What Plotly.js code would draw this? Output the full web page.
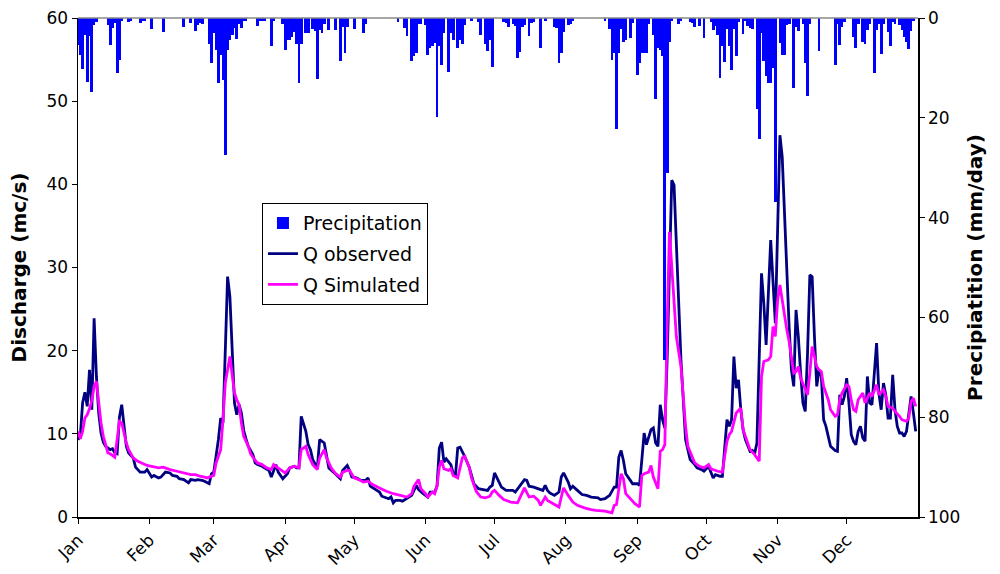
<!DOCTYPE html>
<html>
<head>
<meta charset="utf-8">
<script src="https://cdn.plot.ly/plotly-3.0.1.min.js"></script>
<style>html,body{margin:0;padding:0;background:#fff;}#chart{width:1000px;height:574px;}</style>
</head>
<body>
<div id="chart"></div>
<script>
// Month tick positions (day of year) and labels
const monthStarts = [0, 31, 59, 90, 120, 151, 181, 212, 243, 273, 304, 334];
const monthLabels = ["Jan","Feb","Mar","Apr","May","Jun","Jul","Aug","Sep","Oct","Nov","Dec"];

// Daily precipitation (mm/day), days with rain only
const precipDay = [0,1,2,3,4,5,6,7,8,13,14,15,16,17,18,19,22,23,27,28,29,32,37,46,49,51,52,53,54,57,58,
 59,60,61,62,63,64,65,66,67,68,69,70,71,72,73,78,79,80,81,84,85,89,
 90,91,92,93,94,95,96,97,99,100,102,103,104,105,106,107,109,112,114,115,116,117,
 120,124,125,139,142,143,145,146,147,148,149,151,152,153,154,155,156,157,158,159,161,162,163,165,166,167,168,171,174,175,177,178,179,180,
 185,186,187,189,190,191,192,193,194,196,197,198,201,203,207,208,209,210,211,213,214,215,229,231,232,233,234,235,236,237,238,240,241,
 243,244,245,246,247,248,250,251,252,253,254,255,256,257,258,261,262,266,267,268,270,272,
 275,276,277,278,279,280,281,282,283,284,285,286,287,289,290,291,292,293,295,296,297,298,299,300,301,302,303,
 305,306,307,308,309,311,312,313,315,316,317,318,322,329,330,331,332,333,337,338,339,341,342,343,344,346,347,348,349,350,352,353,354,355,357,358,359,360,361,362,363];
const precipMM = [5.5,7.4,10.2,3.5,12.8,3.7,14.8,1.5,0.8,1.4,5.4,2,1,11,8.4,0.7,0.8,0.6,1,0.6,0.5,2.3,2.9,1.8,1,2.7,1.5,1,1.2,5.2,9,
 3,6.4,13,7.4,12.4,27.5,6.4,4.4,3.4,2,4.2,1.3,2,0.6,0.5,1.6,0.7,0.6,0.5,5.6,0.5,1.2,
 6.4,4.4,4.4,3.8,2.8,5.2,13,5.2,3.1,3.1,2.2,2.6,12.3,2.5,3,1.3,2.4,2.4,8.7,1.8,7,1.8,
 2.3,3.1,1.3,0.8,2,3.6,8.7,7.7,7,1.3,1.2,1.5,7.5,6,5.7,5,19.8,5.7,9.4,3,10.8,3,4.4,6,4.4,5.2,1.5,0.6,0.8,3.4,5.2,6.7,4.4,9.8,
 0.8,1,1.8,1.2,1.6,8,6.9,1.8,1.4,3.6,1,0.8,6.1,0.5,1.8,2,9,7,2.8,1.4,1.2,0.5,0.5,2.2,8.4,7,22.3,7,2.2,4.8,4.4,4,1,
 11.4,9,7,7,7,1.2,3.4,16.3,6,6.5,7.7,68.5,31,4.9,0.5,1.2,0.6,0.8,1,1.8,1.6,4,
 0.8,2.4,1.6,3.4,12,5.7,8.8,2.2,5.6,10.4,2.2,7.6,0.8,3.2,0.6,1.7,2,2.3,18.3,24.3,3,8.7,11.7,13,13,10,36.8,
 5,7.5,7.5,1.4,1.2,14.1,1.8,2.7,1.2,9,15.6,1.2,6.7,9.4,1.2,5.4,1.8,0.8,3.8,6.1,1.2,4.8,5.2,2.4,1.2,11,2.4,1.2,7.2,1.2,2.8,5.7,0.8,1.2,1.5,2.4,3.8,4.8,6.2,2.7,0.6];

// Observed discharge (m3/s)
const obsDay = [0,1,2,3,4,5,6,7,8,9,10,11,12,14,15,16,17,18,19,20,21,22,24,25,27,29,30,32,33,35,36,38,40,41,43,44,46,48,49,51,52,54,55,57,58,59,
 60,61,62,63,64,65,66,67,68,69,70,71,72,73,74,76,77,78,80,81,83,84,86,87,89,91,92,94,95,96,97,99,100,101,102,104,105,107,108,109,111,113,114,115,117,118,119,
 121,123,125,126,127,129,131,132,135,136,137,138,140,141,143,145,147,148,150,152,153,155,156,157,158,159,160,162,163,164,165,166,168,170,172,174,176,178,179,
 180,181,183,184,186,187,189,190,192,194,195,196,198,200,202,203,204,205,207,209,210,211,213,214,215,217,219,221,223,226,227,229,231,233,234,235,236,237,238,240,241,
 243,244,245,246,247,249,250,251,252,253,254,255,256,258,259,260,261,262,263,264,265,266,268,269,271,272,274,275,276,277,279,280,
 281,282,283,284,285,286,287,288,289,290,292,293,294,295,297,298,299,300,301,303,305,306,307,308,309,310,311,312,313,314,315,316,317,318,319,320,321,322,323,324,325,326,327,329,330,
 331,332,333,334,335,336,337,338,339,340,341,342,343,344,345,347,348,349,350,351,352,353,354,355,356,357,358,359,360,361,362,363,364];
const obsQ = [9.3,9.7,13.7,15,13.3,17.7,12.9,23.9,16.9,12.5,10.1,9,8.5,8.1,8.2,7.7,7.6,12,13.5,10.9,8.5,7.7,7.1,6,5.4,5.4,5.7,4.8,5,4.7,4.8,5.4,5.3,5,4.9,4.6,4.5,4.1,4.5,4.4,4.5,4.4,4.3,4,5.2,5.4,
 7.2,9.3,11.9,11.3,20,28.9,26.5,18.9,13.7,12.3,13.5,12.5,10.4,9.4,8.5,7.5,6.5,6.3,6.1,5.9,5.6,4.8,6.3,5.4,4.6,5.2,5.9,6.1,5.9,5.9,12.1,10.3,8.7,8.1,6.9,5.9,9.3,8.9,7.2,5.9,5.4,4.8,4.6,5.6,6.2,5.6,4.8,
 4.7,4.4,4.4,4.7,3.7,3.4,3,2.5,2.2,2.4,1.7,2,2,1.9,2.2,2.6,3.8,3.3,2.8,2.4,3,3,3.7,8.3,9,6.6,7,6.3,5.3,4.9,8.3,8.4,7.3,6,4,3.4,3.3,3.2,3.6,
 3.8,5.3,4.1,3.6,3.2,3.2,3.2,3,3.8,4.5,4.4,3.7,3.6,3.4,3.2,3.8,3.2,2.9,2.6,3,4.8,5.3,4.2,3.4,3.7,3.2,2.7,2.6,2.4,2.3,2.1,2.2,2.6,3.6,3.6,7.2,8,6.8,5.2,4.4,4,
 4,3.8,6.9,10.1,8.7,10.5,10.7,8.9,8.5,13.5,11.7,10.7,19,40.5,39.9,32.9,24.9,18.9,14.1,9.3,8.1,6.9,6.3,5.9,5.7,5.5,6.1,5.5,4.7,5.1,4.9,4.9,
 8.5,11.7,10.9,11.7,19.3,15.5,16.5,12.9,10.5,9.3,7.9,8,7.6,8.9,29.3,25.7,20.7,26.9,33.3,23.3,45.9,43.3,35.7,29.7,22.9,17.7,15.7,24.9,21.7,17.3,13.7,12.7,19.7,29.1,28.9,21.7,15.7,17.7,16.9,11.7,10.9,9.7,8.5,8,7.9,
 14.7,13.5,14.5,16.7,13.7,9.9,9.1,8.7,10.3,10.9,9.5,9.1,16.9,13.7,13.5,20.9,14.9,12.9,16.1,14.7,11.9,11.9,17.1,12.9,10.9,10.1,10.1,9.7,10.3,12.5,14.5,12.5,10.3];

// Simulated discharge (m3/s)
const simDay = [0,1,2,3,4,5,6,7,8,9,10,11,12,13,14,15,16,17,18,19,20,21,22,23,24,26,28,30,32,35,37,40,43,46,49,51,53,55,56,57,59,
 60,62,63,64,66,67,68,69,70,71,72,74,75,77,78,80,82,84,85,88,90,92,94,96,97,99,100,102,104,105,107,108,110,112,114,115,117,118,
 120,122,124,126,128,131,134,137,140,143,145,146,148,149,151,152,154,155,156,157,158,159,161,162,163,165,167,168,170,171,173,175,177,179,
 180,181,183,185,188,191,194,195,196,198,200,201,203,204,207,209,210,211,213,215,217,220,223,225,229,232,233,234,236,237,238,240,242,
 244,245,246,248,249,250,252,253,254,255,256,257,258,259,260,262,263,264,265,267,268,270,272,274,275,278,280,
 281,282,283,284,286,288,289,291,292,294,296,297,298,300,301,302,303,304,305,306,307,308,309,311,312,313,314,316,317,318,319,321,322,323,324,326,327,329,330,
 331,332,334,335,336,337,338,339,341,342,343,344,345,346,347,348,350,351,352,354,355,357,358,360,361,362,363,364];
const simQ = [10.3,9.4,10.3,11.9,12.3,13,14,15.7,16.3,13.7,11.3,9.7,8.5,7.7,7.6,7.4,7.2,9.3,11.5,11.3,10,8.9,8.1,7.5,7.1,6.7,6.4,6.2,6.1,5.9,6,5.7,5.5,5.3,5.1,5.1,4.9,4.8,4.7,4.8,5,
 6.5,8.1,11.7,16.1,19.3,17.3,14.9,14.1,13.5,11.3,9.7,8.5,7.6,6.8,6.5,6.3,5.9,5.7,6.3,5.7,5.3,5.9,6.1,5.9,8.1,8.5,7.5,6.3,5.7,7.1,8.1,7.1,5.9,5.2,4.8,5.4,5.6,5.6,
 4.7,4.5,4.2,4.3,3.9,3.5,3.1,2.8,2.6,2.4,2.8,3.7,4.5,3.4,2.8,2.4,3,2.8,3.7,6,6.8,5.8,5.6,5.8,5,4.7,7.1,7.3,6,4.7,3.1,2.4,2.3,2.5,
 3,3.2,2.6,2.1,1.8,1.7,3.5,3,2.4,2.5,2,1.4,2.4,2,1.5,1.2,2.4,3.5,2.6,1.8,1.4,1.1,0.9,0.8,0.7,0.5,1.4,1.5,5.2,4.6,2.8,2.2,1.6,
 1.2,5,5.2,5.4,6.2,4.8,3.4,7.9,8.1,8.7,22.9,34.3,30.1,25.3,21.7,18.1,14.1,10.9,8.5,7.3,6.5,6.1,5.9,6.3,5.8,5.5,5.4,
 7.3,9.1,9.9,10.3,12.5,13.1,10.5,8.9,8.1,7.5,6.7,16.9,18.7,18.9,19.3,22.9,21.7,26.1,27.9,26.1,24.1,22.5,21.1,17.3,17.5,18.1,16.7,15.5,14.7,17.3,20.5,18.1,17.7,17.5,15.7,14.1,12.9,12.1,12.3,
 14.1,14.9,15.9,15.7,14.1,12.9,12.7,14.1,14.9,13.7,14.3,14.9,14.5,15.3,15.9,14.7,15.3,14.5,13.3,13.1,12.7,12.1,11.7,11.5,11.9,13.9,14.3,13.3];

const FONT = "DejaVu Sans, Verdana, sans-serif";

const traces = [
  {
    type: "bar", name: "Precipitation", legendgroup: "p", x: precipDay, y: precipMM, yaxis: "y2",
    width: 1.2, marker: {color: "#0000FF", line: {width: 0}}
  },
  {
    type: "scatter", mode: "lines", name: "Q observed", legendgroup: "o", x: obsDay, y: obsQ,
    line: {color: "#000080", width: 2.8}
  },
  {
    type: "scatter", mode: "lines", name: "Q Simulated", legendgroup: "s", x: simDay, y: simQ,
    line: {color: "#FF00FF", width: 2.8}
  }
];

const layout = {
  width: 1000, height: 574,
  margin: {l: 78, r: 82, t: 18, b: 57, pad: 0},
  paper_bgcolor: "#ffffff", plot_bgcolor: "#ffffff",
  font: {family: FONT, size: 17, color: "#000"},
  bargap: 0,
  showlegend: true,
  legend: {
    x: 0.219, y: 0.629, xanchor: "left", yanchor: "top",
    bgcolor: "#ffffff", bordercolor: "#000000", borderwidth: 1,
    font: {family: FONT, size: 19, color: "#000"},
    traceorder: "grouped", tracegroupgap: 3
  },
  xaxis: {
    range: [0, 365], tickmode: "array", tickvals: monthStarts, ticktext: monthLabels,
    tickangle: -45, ticks: "outside", ticklen: 5, tickcolor: "#000",
    showline: true, linecolor: "#000", linewidth: 1.5, showgrid: false, zeroline: false,
    tickfont: {family: FONT, size: 17}
  },
  yaxis: {
    range: [0, 60], dtick: 10, ticks: "outside", ticklen: 5, tickcolor: "#000",
    showline: true, linecolor: "#000", linewidth: 1.5, showgrid: false, zeroline: false,
    tickfont: {family: FONT, size: 17},
    title: {text: "Discharge (mc/s)", font: {family: FONT, size: 20, color: "#000", weight: "bold"}, standoff: 14}
  },
  yaxis2: {
    overlaying: "y", side: "right", range: [100, 0], dtick: 20,
    ticks: "outside", ticklen: 5, tickcolor: "#000",
    showline: true, linecolor: "#000", linewidth: 1.5, showgrid: false, zeroline: false,
    tickfont: {family: FONT, size: 17},
    title: {text: "Precipiatition (mm/day)", font: {family: FONT, size: 20, color: "#000", weight: "bold"}, standoff: 8}
  },
  shapes: [
    {type: "line", xref: "paper", yref: "paper", x0: 0, x1: 1, y0: 1, y1: 1, line: {color: "#888", width: 1.5}}
  ]
};

Plotly.newPlot("chart", traces, layout, {displayModeBar: false, staticPlot: true});
</script>
</body>
</html>
